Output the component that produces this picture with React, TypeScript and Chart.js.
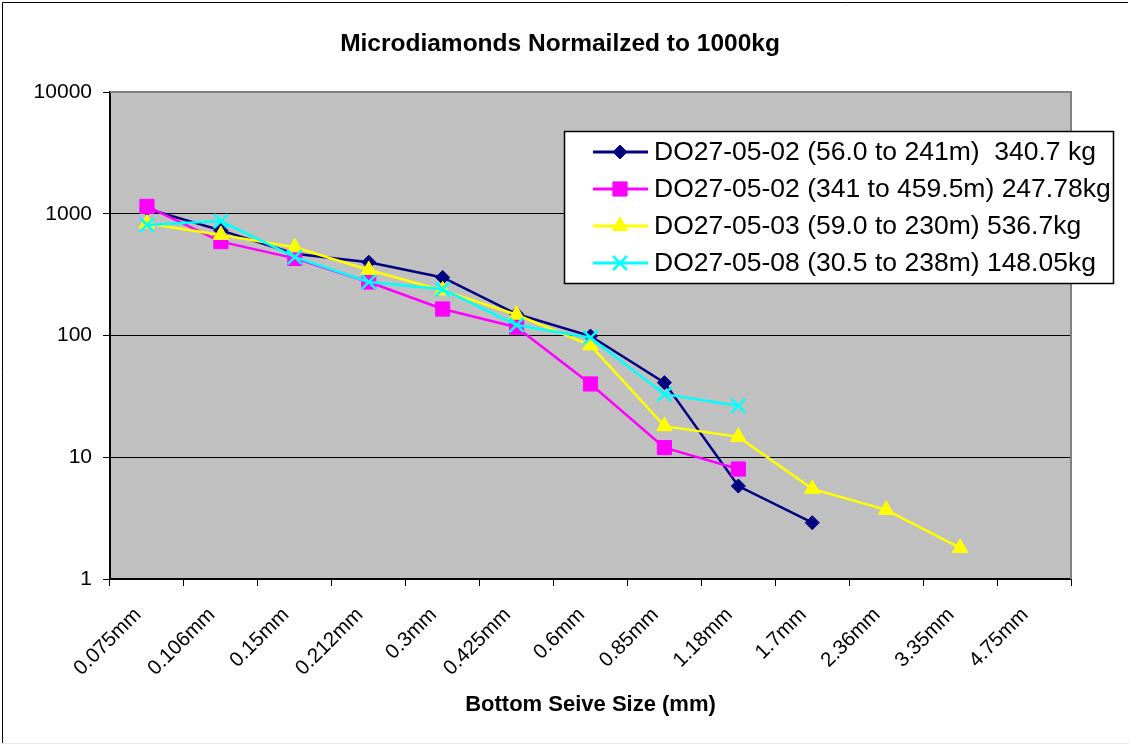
import React, { useEffect, useRef } from "react";
import { Chart, registerables } from "chart.js";

Chart.register(...registerables);

const categories = [
  "0.075mm", "0.106mm", "0.15mm", "0.212mm", "0.3mm", "0.425mm", "0.6mm",
  "0.85mm", "1.18mm", "1.7mm", "2.36mm", "3.35mm", "4.75mm",
];

const seriesNames = [
  "DO27-05-02 (56.0 to 241m)  340.7 kg",
  "DO27-05-02 (341 to 459.5m) 247.78kg",
  "DO27-05-03 (59.0 to 230m) 536.7kg",
  "DO27-05-08 (30.5 to 238m) 148.05kg",
];

const do0502Upper = [1100, 730, 470, 400, 300, 150, 99, 41, 5.8, 2.9, null, null, null];
const do0502Lower = [1150, 590, 430, 275, 165, 117, 40, 12, 8, null, null, null, null];
const do0503 = [830, 670, 530, 345, 235, 148, 83, 18, 14.7, 5.5, 3.7, 1.8, null];
const do0508 = [810, 870, 440, 275, 240, 122, 96, 33, 26.5, null, null, null, null];

const yTicks = [1, 10, 100, 1000, 10000];

const chartTitle = "Microdiamonds Normailzed to 1000kg";
const xTitle = "Bottom Seive Size (mm)";

const FONT = '"Liberation Sans", Arial, Helvetica, sans-serif';

const seriesStyles = [
  { color: "#000080", marker: "rectRot", radius: 7 },
  { color: "#FF00FF", marker: "rect", radius: 10 },
  { color: "#FFFF00", marker: "triangle", radius: 9 },
  { color: "#00FFFF", marker: "crossRot", radius: 10 },
];

function drawMarker(ctx: CanvasRenderingContext2D, style: string, x: number, y: number, r: number, color: string) {
  ctx.save();
  ctx.fillStyle = color;
  ctx.strokeStyle = color;
  ctx.lineWidth = 1;
  ctx.beginPath();
  if (style === "rectRot") {
    ctx.moveTo(x, y - r);
    ctx.lineTo(x + r, y);
    ctx.lineTo(x, y + r);
    ctx.lineTo(x - r, y);
    ctx.closePath();
    ctx.fill();
    ctx.stroke();
  } else if (style === "rect") {
    const s = Math.SQRT1_2 * r;
    ctx.rect(x - s, y - s, 2 * s, 2 * s);
    ctx.fill();
    ctx.stroke();
  } else if (style === "triangle") {
    const a = (2 * Math.PI) / 3;
    ctx.moveTo(x, y - r);
    ctx.lineTo(x + Math.sin(a) * r, y - Math.cos(a) * r);
    ctx.lineTo(x + Math.sin(2 * a) * r, y - Math.cos(2 * a) * r);
    ctx.closePath();
    ctx.fill();
    ctx.stroke();
  } else if (style === "crossRot") {
    const o = Math.SQRT1_2 * r;
    ctx.lineWidth = 2.5;
    ctx.moveTo(x - o, y - o);
    ctx.lineTo(x + o, y + o);
    ctx.moveTo(x - o, y + o);
    ctx.lineTo(x + o, y - o);
    ctx.stroke();
  }
  ctx.restore();
}

const decorPlugin = {
  id: "decor",
  beforeDraw(chart: any) {
    const { ctx, chartArea: a } = chart;
    ctx.save();
    ctx.fillStyle = "#FFFFFF";
    ctx.fillRect(0, 0, chart.width, chart.height);
    ctx.fillStyle = "#C0C0C0";
    ctx.fillRect(a.left, a.top, a.right - a.left, a.bottom - a.top);
    ctx.restore();
  },
  beforeDatasetsDraw(chart: any) {
    const { ctx, chartArea: a } = chart;
    ctx.save();
    ctx.strokeStyle = "#808080";
    ctx.lineWidth = 2;
    ctx.beginPath();
    ctx.moveTo(a.left, a.top);
    ctx.lineTo(a.right, a.top);
    ctx.lineTo(a.right, a.bottom);
    ctx.stroke();
    ctx.restore();
  },
  afterDraw(chart: any) {
    const { ctx, chartArea: a } = chart;
    ctx.save();
    // outer frame
    ctx.strokeStyle = "#000000";
    ctx.lineWidth = 1;
    ctx.beginPath();
    ctx.moveTo(2.5, chart.height - 2);
    ctx.lineTo(2.5, 2.5);
    ctx.lineTo(chart.width - 1, 2.5);
    ctx.stroke();
    ctx.strokeStyle = "#E6E6E6";
    ctx.beginPath();
    ctx.moveTo(2.5, chart.height - 1.5);
    ctx.lineTo(chart.width, chart.height - 1.5);
    ctx.stroke();

    // title
    ctx.fillStyle = "#000000";
    ctx.textAlign = "center";
    ctx.textBaseline = "middle";
    ctx.font = `bold 24.5px ${FONT}`;
    ctx.fillText(chartTitle, 560, 44);

    // x axis title
    ctx.font = `bold 22px ${FONT}`;
    ctx.fillText(xTitle, (a.left + a.right) / 2, 705);

    // legend
    const lx = 564, ly = 131, lw = 549, lh = 152;
    ctx.fillStyle = "#FFFFFF";
    ctx.fillRect(lx, ly, lw, lh);
    ctx.strokeStyle = "#000000";
    ctx.lineWidth = 1.5;
    ctx.strokeRect(lx + 0.5, ly + 0.5, lw, lh);
    ctx.font = `26.5px ${FONT}`;
    ctx.textAlign = "left";
    ctx.textBaseline = "middle";
    seriesNames.forEach((name, i) => {
      const y = 152 + i * 37;
      const st = seriesStyles[i];
      ctx.strokeStyle = st.color;
      ctx.lineWidth = 3;
      ctx.beginPath();
      ctx.moveTo(593, y);
      ctx.lineTo(648, y);
      ctx.stroke();
      drawMarker(ctx, st.marker, 620, y, st.radius, st.color);
      ctx.fillStyle = "#000000";
      ctx.fillText(name, 654, y + 1);
    });
    ctx.restore();
  },
};

export default function App() {
  const canvasRef = useRef<HTMLCanvasElement | null>(null);

  useEffect(() => {
    document.body.style.margin = "0";
    const canvas = canvasRef.current;
    if (!canvas) return;
    const allData = [do0502Upper, do0502Lower, do0503, do0508];
    const chart = new Chart(canvas, {
      type: "line",
      data: {
        labels: categories,
        datasets: allData.map((d, i) => ({
          label: seriesNames[i],
          data: d,
          borderColor: seriesStyles[i].color,
          backgroundColor: seriesStyles[i].color,
          pointBackgroundColor: seriesStyles[i].color,
          pointBorderColor: seriesStyles[i].color,
          pointStyle: seriesStyles[i].marker as any,
          pointRadius: seriesStyles[i].radius,
          pointBorderWidth: seriesStyles[i].marker === "crossRot" ? 2.5 : 1,
          borderWidth: 2.5,
          tension: 0,
          fill: false,
          spanGaps: false,
          order: 4 - i,
        })),
      },
      options: {
        responsive: false,
        animation: false,
        devicePixelRatio: 1,
        layout: { padding: { top: 92, right: 58, left: 0, bottom: 0 } },
        plugins: {
          legend: { display: false },
          title: { display: false },
          tooltip: { enabled: false },
        },
        scales: {
          x: {
            type: "category",
            offset: true,
            grid: {
              display: true,
              offset: true,
              drawOnChartArea: false,
              drawTicks: true,
              tickLength: 7,
              color: "#000000",
              lineWidth: 1,
            },
            border: { display: true, color: "#000000", width: 2 },
            ticks: {
              autoSkip: false,
              minRotation: 45,
              maxRotation: 45,
              color: "#000000",
              padding: 17,
              labelOffset: -9,
              font: { size: 20.5, family: FONT },
            },
            afterFit: (s: any) => {
              s.height = 166;
            },
          },
          y: {
            type: "logarithmic",
            min: 1,
            max: 10000,
            afterBuildTicks: (s: any) => {
              s.ticks = yTicks.map((v) => ({ value: v }));
            },
            afterFit: (s: any) => {
              s.width = 110;
            },
            grid: {
              color: "#000000",
              lineWidth: 1,
              drawTicks: true,
              tickLength: 7,
            },
            border: { display: true, color: "#000000", width: 2 },
            ticks: {
              color: "#000000",
              padding: 11,
              font: { size: 21, family: FONT },
              callback: (v: any) => String(v),
            },
          },
        },
      },
      plugins: [decorPlugin],
    });
    return () => chart.destroy();
  }, []);

  return (
    <div style={{ width: 1129, height: 745 }}>
      <canvas ref={canvasRef} width={1129} height={745} style={{ display: "block" }} />
    </div>
  );
}
